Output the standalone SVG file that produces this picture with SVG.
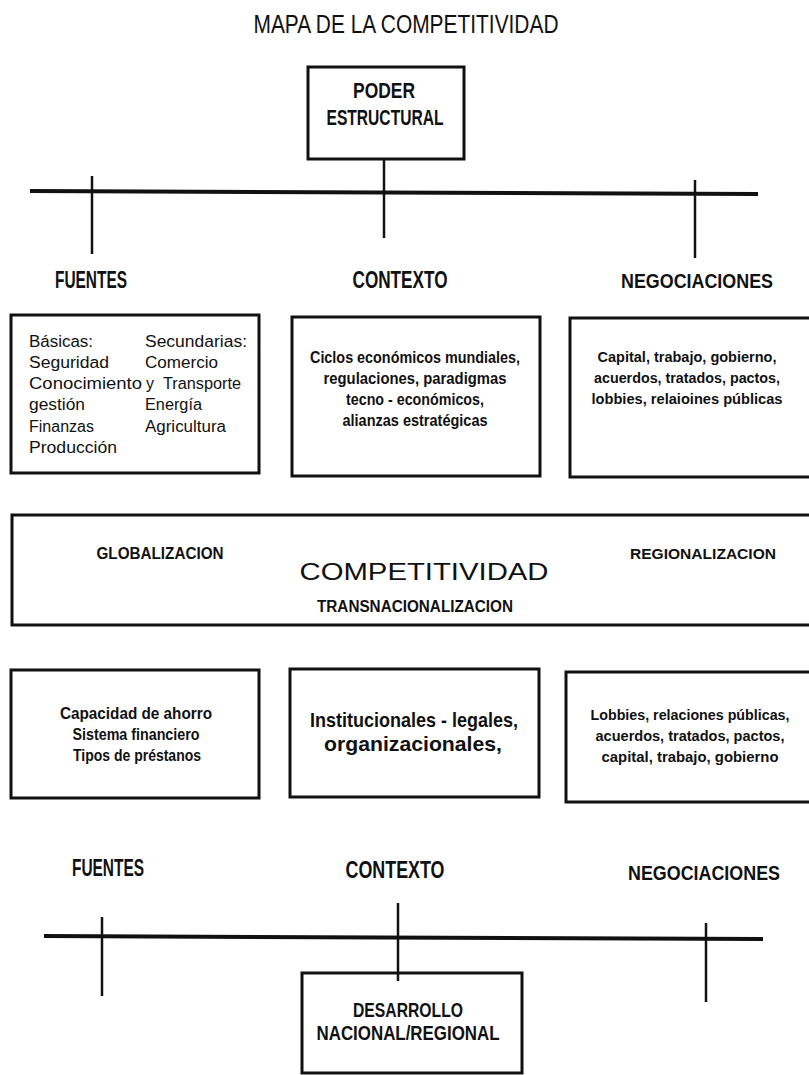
<svg xmlns="http://www.w3.org/2000/svg" width="809" height="1075" viewBox="0 0 809 1075">
<style>
.bg{fill:#ffffff}
.box{fill:none;stroke:#111;stroke-width:3}
.ln{stroke:#111;stroke-width:4;fill:none}
.tk{stroke:#111;stroke-width:2.5;fill:none}
text{font-family:"Liberation Sans",Arial,sans-serif;fill:#111}
.h{font-size:23px;font-weight:bold}
.hn{font-size:20px;font-weight:bold}
.t{font-size:16px}
.tb{font-size:16px;font-weight:bold}
.tr{font-size:14px;font-weight:bold}
.s{font-size:17px;font-weight:bold}
.c{text-anchor:middle}
</style>
<rect class="bg" x="0" y="0" width="809" height="1075"/>
<text x="406" y="33" class="c" style="font-size:25px" textLength="305" lengthAdjust="spacingAndGlyphs">MAPA DE LA COMPETITIVIDAD</text>

<g id="connectors">
<line class="ln" x1="30" y1="191" x2="758" y2="194"/>
<line class="tk" x1="92" y1="176" x2="92" y2="254"/>
<line class="tk" x1="384" y1="159" x2="384" y2="238"/>
<line class="tk" x1="695" y1="180" x2="695" y2="258"/>
<line class="ln" x1="44" y1="936" x2="763" y2="939"/>
<line class="tk" x1="102" y1="917" x2="102" y2="996"/>
<line class="tk" x1="398" y1="903" x2="398" y2="981"/>
<line class="tk" x1="706" y1="923" x2="706" y2="1002"/>
</g>

<g id="poder">
<rect class="box" x="308" y="67" width="156" height="92"/>
<text x="384" y="98" class="c" style="font-size:22px;font-weight:bold" textLength="62" lengthAdjust="spacingAndGlyphs">PODER</text>
<text x="385" y="125" class="c" style="font-size:22px;font-weight:bold" textLength="117" lengthAdjust="spacingAndGlyphs">ESTRUCTURAL</text>
</g>

<g id="labels-top">
<text x="91" y="288" class="h c" textLength="72" lengthAdjust="spacingAndGlyphs">FUENTES</text>
<text x="400" y="288" class="h c" textLength="95" lengthAdjust="spacingAndGlyphs">CONTEXTO</text>
<text x="697" y="288" class="hn c" textLength="152" lengthAdjust="spacingAndGlyphs">NEGOCIACIONES</text>
</g>

<g id="fuentes-box">
<rect class="box" x="11" y="315" width="248" height="158"/>
<text x="29" y="347" class="t" textLength="64" lengthAdjust="spacingAndGlyphs">Básicas:</text>
<text x="145" y="347" class="t" textLength="102" lengthAdjust="spacingAndGlyphs">Secundarias:</text>
<text x="29" y="368" class="t" textLength="80" lengthAdjust="spacingAndGlyphs">Seguridad</text>
<text x="145" y="368" class="t" textLength="73" lengthAdjust="spacingAndGlyphs">Comercio</text>
<text x="29" y="389" class="t" textLength="113" lengthAdjust="spacingAndGlyphs">Conocimiento</text>
<text x="146" y="389" class="t">y</text>
<text x="163" y="389" class="t" textLength="78" lengthAdjust="spacingAndGlyphs">Transporte</text>
<text x="29" y="410" class="t" textLength="56" lengthAdjust="spacingAndGlyphs">gestión</text>
<text x="145" y="410" class="t" textLength="57" lengthAdjust="spacingAndGlyphs">Energía</text>
<text x="29" y="432" class="t" textLength="65" lengthAdjust="spacingAndGlyphs">Finanzas</text>
<text x="145" y="432" class="t" textLength="81" lengthAdjust="spacingAndGlyphs">Agricultura</text>
<text x="29" y="453" class="t" textLength="88" lengthAdjust="spacingAndGlyphs">Producción</text>
</g>

<g id="contexto-box">
<rect class="box" x="292" y="317" width="248" height="159"/>
<text x="415" y="363" class="tb c" textLength="210" lengthAdjust="spacingAndGlyphs">Ciclos económicos mundiales,</text>
<text x="415" y="384" class="tb c" textLength="183" lengthAdjust="spacingAndGlyphs">regulaciones, paradigmas</text>
<text x="415" y="405" class="tb c" textLength="138" lengthAdjust="spacingAndGlyphs">tecno - económicos,</text>
<text x="415" y="426" class="tb c" textLength="145" lengthAdjust="spacingAndGlyphs">alianzas estratégicas</text>
</g>

<g id="negociaciones-box">
<rect class="box" x="570" y="318" width="245" height="159"/>
<text x="687" y="362" class="tr c" textLength="179" lengthAdjust="spacingAndGlyphs">Capital, trabajo, gobierno,</text>
<text x="687" y="383" class="tr c" textLength="186" lengthAdjust="spacingAndGlyphs">acuerdos, tratados, pactos,</text>
<text x="687" y="404" class="tr c" textLength="191" lengthAdjust="spacingAndGlyphs">lobbies, relaioines públicas</text>
</g>

<g id="competitividad">
<rect class="box" x="12" y="515" width="805" height="110"/>
<text x="160" y="559" class="s c" textLength="127" lengthAdjust="spacingAndGlyphs">GLOBALIZACION</text>
<text x="703" y="559" class="c" style="font-size:15px;font-weight:bold" textLength="146" lengthAdjust="spacingAndGlyphs">REGIONALIZACION</text>
<text x="424" y="580" class="c" style="font-size:24px" textLength="249" lengthAdjust="spacingAndGlyphs">COMPETITIVIDAD</text>
<text x="415" y="612" class="c" style="font-size:16px;font-weight:bold" textLength="196" lengthAdjust="spacingAndGlyphs">TRANSNACIONALIZACION</text>
</g>

<g id="ahorro-box">
<rect class="box" x="11" y="670" width="248" height="128"/>
<text x="136" y="719" class="tb c" textLength="152" lengthAdjust="spacingAndGlyphs">Capacidad de ahorro</text>
<text x="136" y="740" class="tb c" textLength="127" lengthAdjust="spacingAndGlyphs">Sistema financiero</text>
<text x="137" y="761" class="tb c" textLength="128" lengthAdjust="spacingAndGlyphs">Tipos de préstanos</text>
</g>

<g id="institucional-box">
<rect class="box" x="290" y="669" width="249" height="128"/>
<text x="414" y="727" class="c" style="font-size:21px;font-weight:bold" textLength="208" lengthAdjust="spacingAndGlyphs">Institucionales - legales,</text>
<text x="413" y="751" class="c" style="font-size:21px;font-weight:bold" textLength="178" lengthAdjust="spacingAndGlyphs">organizacionales,</text>
</g>

<g id="lobbies-box">
<rect class="box" x="566" y="672" width="250" height="130"/>
<text x="690" y="720" class="tr c" textLength="199" lengthAdjust="spacingAndGlyphs">Lobbies, relaciones públicas,</text>
<text x="690" y="741" class="tr c" textLength="189" lengthAdjust="spacingAndGlyphs">acuerdos, tratados, pactos,</text>
<text x="690" y="762" class="tr c" textLength="177" lengthAdjust="spacingAndGlyphs">capital, trabajo, gobierno</text>
</g>

<g id="labels-bottom">
<text x="108" y="876" class="h c" textLength="72" lengthAdjust="spacingAndGlyphs">FUENTES</text>
<text x="395" y="878" class="h c" textLength="99" lengthAdjust="spacingAndGlyphs">CONTEXTO</text>
<text x="704" y="880" class="hn c" textLength="152" lengthAdjust="spacingAndGlyphs">NEGOCIACIONES</text>
</g>

<g id="desarrollo">
<rect class="box" x="302" y="973" width="220" height="100"/>
<text x="408" y="1017" class="c" style="font-size:21px;font-weight:bold" textLength="110" lengthAdjust="spacingAndGlyphs">DESARROLLO</text>
<text x="408" y="1040" class="c" style="font-size:21px;font-weight:bold" textLength="183" lengthAdjust="spacingAndGlyphs">NACIONAL/REGIONAL</text>
</g>
</svg>
